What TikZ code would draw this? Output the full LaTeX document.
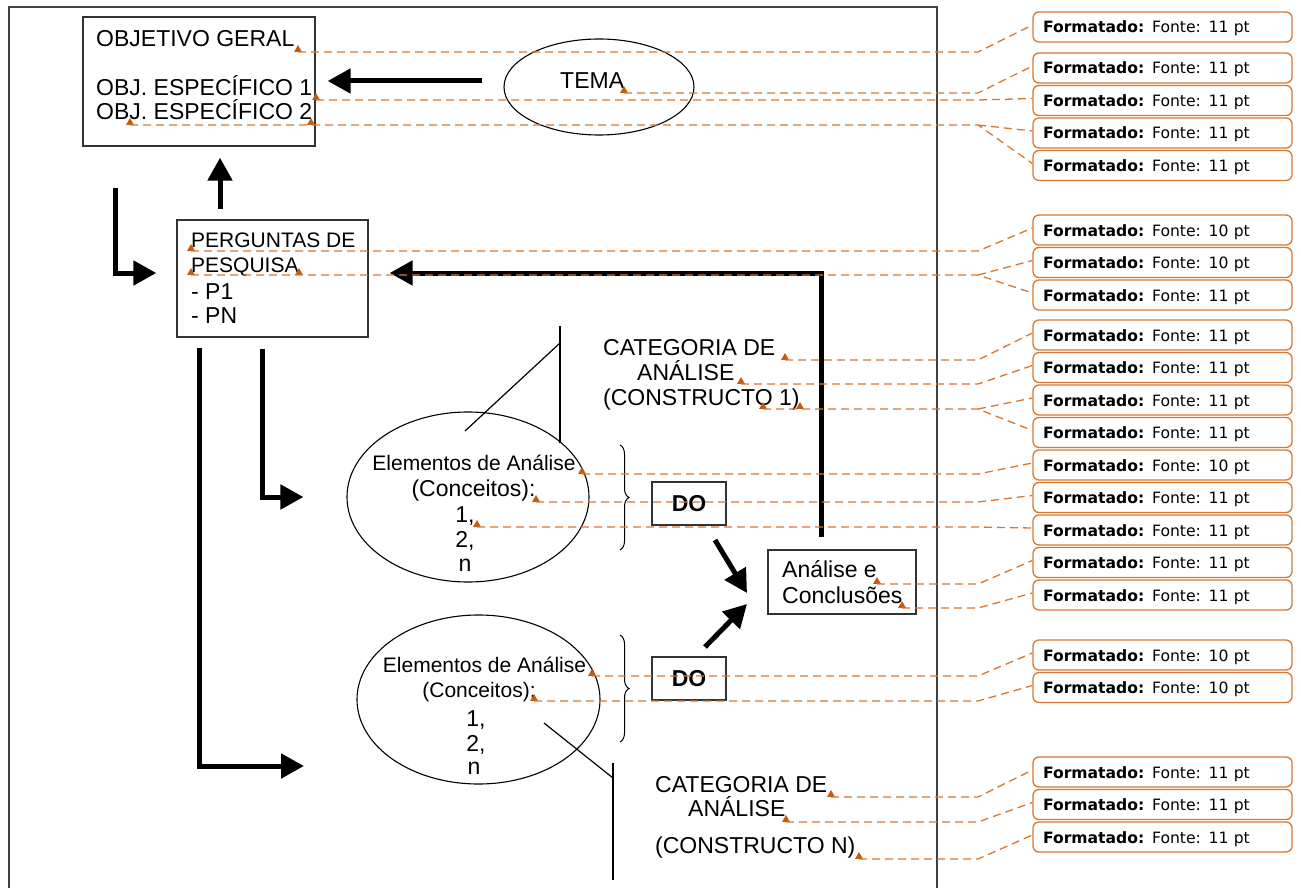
\documentclass[tikz,border=0pt]{standalone}
\usepackage{fontspec}
\setmainfont{Liberation Sans}
\newfontfamily\notefont{DejaVu Sans}
\usetikzlibrary{shapes,arrows.meta,calc,decorations.pathreplacing}
\definecolor{notecol}{RGB}{215,120,50}
\definecolor{tickcol}{RGB}{197,90,17}
\tikzstyle{pageframe}=[draw=black!75,line width=1.3pt]
\tikzstyle{box}=[draw=black!80,line width=1.3pt,inner sep=0pt]
\tikzstyle{oval}=[ellipse,draw=black,line width=1.1pt,inner sep=0pt]
\tikzstyle{txtL}=[inner sep=0pt,anchor=base west,font=\fontsize{23}{26}\selectfont]
\tikzstyle{txtS}=[inner sep=0pt,anchor=base west,font=\fontsize{21}{24}\selectfont]
\tikzstyle{flow}=[line width=5pt,-{Triangle[length=23pt,width=24pt]}]
\tikzstyle{guide}=[line width=1.2pt]
\tikzstyle{brc}=[line width=1pt,decorate,decoration={brace,amplitude=9pt}]
\tikzstyle{anchormark}=[regular polygon,regular polygon sides=3,fill=tickcol,
                        inner sep=0pt,minimum size=9pt,anchor=south]
\tikzstyle{leader}=[draw=notecol,line width=1.3pt,dash pattern=on 8pt off 5pt]
\tikzstyle{note}=[draw=notecol,line width=1.3pt,rounded corners=6pt,
                  minimum width=259pt,minimum height=30pt,
                  text width=239pt,inner xsep=10pt,inner ysep=0pt,
                  text height=12pt,text depth=0pt,align=left,
                  font=\notefont\fontsize{15.6}{18}\selectfont]

\begin{document}
\begin{tikzpicture}[x=1pt,y=-1pt,node distance=32.5pt]
    \useasboundingbox (0,0) rectangle (1301,888);
    % page frame, open at the bottom
    \draw[pageframe] (9,888) -- (9,7) -- (937,7) -- (937,888);

    % objectives
    \node[box,minimum width=232pt,minimum height=129pt] (obj) at (199,81.5) {};
    \node[txtL] (og) at (96,47) {OBJETIVO GERAL};
    \node[txtL] (oe1) at (96,96) {OBJ. ESPECÍFICO 1};
    \node[txtL] (oe2) at (96,120) {OBJ. ESPECÍFICO 2};

    % theme
    \node[oval,minimum width=190pt,minimum height=96pt] (tema) at (599,87) {};
    \node[txtL] (tematxt) at (560,89) {TEMA};

    % research questions
    \node[box,minimum width=191pt,minimum height=117pt] (perg) at (272.5,278.5) {};
    \node[txtS] (pq1) at (191,247) {PERGUNTAS DE};
    \node[txtS] (pq2) at (191,272) {PESQUISA};
    \node[txtL] (p1) at (191,299) {- P1};
    \node[txtL] (pn) at (191,323) {- PN};

    % elements of analysis
    \node[oval,minimum width=242pt,minimum height=170pt] (el1) at (468,497) {};
    \node[txtS,anchor=base] (el1a) at (474,470) {Elementos de Análise};
    \node[txtL,anchor=base] (el1b) at (473.5,496) {(Conceitos):};
    \node[txtL,anchor=base] (el1c) at (465,522) {1,};
    \node[txtL,anchor=base] (el1d) at (465,547) {2,};
    \node[txtL,anchor=base] (el1e) at (465,571) {n};

    \node[oval,minimum width=243pt,minimum height=169pt] (el2) at (478.5,699.5) {};
    \node[txtS,anchor=base] (el2a) at (484.5,672) {Elementos de Análise};
    \node[txtS,anchor=base] (el2b) at (479,697) {(Conceitos):};
    \node[txtL,anchor=base] (el2c) at (476,726) {1,};
    \node[txtL,anchor=base] (el2d) at (476,751) {2,};
    \node[txtL,anchor=base] (el2e) at (474,774) {n};

    % categories
    \node[txtL] (cat1a) at (603,355) {CATEGORIA DE};
    \node[txtL] (cat1b) at (637,380) {ANÁLISE};
    \node[txtL] (cat1c) at (603,405) {(CONSTRUCTO 1)};
    \node[txtL] (catNa) at (655,792) {CATEGORIA DE};
    \node[txtL] (catNb) at (688,816) {ANÁLISE};
    \node[txtL] (catNc) at (655,853) {(CONSTRUCTO N)};

    \coordinate (g1a) at (465,431);
    \coordinate (g1b) at (560,343);
    \coordinate (g1c) at (560,326);
    \coordinate (g1d) at (560,443);
    \draw[guide] (g1a) -- (g1b);
    \draw[guide] (g1c) -- (g1d);
    \coordinate (g2a) at (544,723);
    \coordinate (g2b) at (613,778);
    \coordinate (g2c) at (613,763);
    \coordinate (g2d) at (613,880);
    \draw[guide] (g2a) -- (g2b);
    \draw[guide] (g2c) -- (g2d);

    % braces, DO boxes, conclusions
    \coordinate (br1t) at (620,445);
    \coordinate (br1b) at (620,550);
    \coordinate (br2t) at (620,635);
    \coordinate (br2b) at (620,742);
    \draw[brc] (br1t) -- (br1b);
    \draw[brc] (br2t) -- (br2b);

    \node[box,minimum width=74pt,minimum height=43pt,font=\fontsize{23}{26}\selectfont\bfseries] (do1) at (689,503.5) {DO};
    \node[box,minimum width=74pt,minimum height=43pt,font=\fontsize{23}{26}\selectfont\bfseries] (do2) at (689,678.5) {DO};
    \node[box,minimum width=148pt,minimum height=64pt] (concl) at (842,582) {};
    \node[txtL] (an1) at (782,577) {Análise e};
    \node[txtL] (an2) at (782,603) {Conclusões};

    % thick arrows
    \coordinate (up) at (220,0);
    \coordinate (th) at (0,81);
    \coordinate (q) at (0,273);
    \coordinate (fb) at (821,273);
    \coordinate (e1) at (115,188);
    \coordinate (e2) at (262,0);
    \coordinate (e3s) at (199,348);
    \coordinate (e3t) at (304,766);
    \coordinate (d1s) at (715,540);
    \coordinate (d1t) at (747,593);
    \coordinate (d2s) at (705,647);
    \coordinate (d2t) at (747,604);
    \draw[flow,shorten <=10pt,shorten >=11pt] (perg.north -| up) -- (obj.south -| up);
    \draw[flow,shorten <=21pt,shorten >=12pt] (tema.west |- th) -- (obj.east |- th);
    \draw[flow,shorten >=20pt] (e1) |- (perg.west |- q);
    \draw[flow,shorten <=12pt,shorten >=21pt] (concl.north -| fb) |- (perg.east |- fb);
    \draw[flow,shorten <=11pt,shorten >=43pt] (perg.south -| e2) |- (el1.west);
    \draw[flow] (e3s) |- (e3t);
    \draw[flow] (d1s) -- (d1t);
    \draw[flow] (d2s) -- (d2t);

    % comment balloons
    \node[note] (c1) at (1162.5,27) {\textbf{Formatado:} Fonte: 11 pt};
    \node[note] (c2) at (1162.5,68) {\textbf{Formatado:} Fonte: 11 pt};
    \node[note,below of=c2] (c3) {\textbf{Formatado:} Fonte: 11 pt};
    \node[note,below of=c3] (c4) {\textbf{Formatado:} Fonte: 11 pt};
    \node[note,below of=c4] (c5) {\textbf{Formatado:} Fonte: 11 pt};
    \node[note] (c6) at (1162.5,230) {\textbf{Formatado:} Fonte: 10 pt};
    \node[note,below of=c6] (c7) {\textbf{Formatado:} Fonte: 10 pt};
    \node[note,below of=c7] (c8) {\textbf{Formatado:} Fonte: 11 pt};
    \node[note] (c9) at (1162.5,335) {\textbf{Formatado:} Fonte: 11 pt};
    \node[note,below of=c9] (c10) {\textbf{Formatado:} Fonte: 11 pt};
    \node[note,below of=c10] (c11) {\textbf{Formatado:} Fonte: 11 pt};
    \node[note,below of=c11] (c12) {\textbf{Formatado:} Fonte: 11 pt};
    \node[note,below of=c12] (c13) {\textbf{Formatado:} Fonte: 10 pt};
    \node[note,below of=c13] (c14) {\textbf{Formatado:} Fonte: 11 pt};
    \node[note,below of=c14] (c15) {\textbf{Formatado:} Fonte: 11 pt};
    \node[note,below of=c15] (c16) {\textbf{Formatado:} Fonte: 11 pt};
    \node[note,below of=c16] (c17) {\textbf{Formatado:} Fonte: 11 pt};
    \node[note] (c18) at (1162.5,655) {\textbf{Formatado:} Fonte: 10 pt};
    \node[note,below of=c18] (c19) {\textbf{Formatado:} Fonte: 10 pt};
    \node[note] (c20) at (1162.5,772) {\textbf{Formatado:} Fonte: 11 pt};
    \node[note,below of=c20] (c21) {\textbf{Formatado:} Fonte: 11 pt};
    \node[note,below of=c21] (c22) {\textbf{Formatado:} Fonte: 11 pt};

    % anchor marks
    \node[anchormark] (t1) at (298,52) {};
    \node[anchormark] (t2) at (624,93) {};
    \node[anchormark] (t3) at (316,100) {};
    \node[anchormark] (t4) at (311,125) {};
    \node[anchormark] (t5) at (130,125) {};
    \node[anchormark] (t6) at (191,251) {};
    \node[anchormark] (t7) at (299,275) {};
    \node[anchormark] (t8) at (191,275) {};
    \node[anchormark] (t9) at (785,360) {};
    \node[anchormark] (t10) at (741,384) {};
    \node[anchormark] (t11) at (800,409) {};
    \node[anchormark] (t12) at (763,409) {};
    \node[anchormark] (t13) at (582,474) {};
    \node[anchormark] (t14) at (536,502) {};
    \node[anchormark] (t15) at (477,527) {};
    \node[anchormark] (t16) at (877,584) {};
    \node[anchormark] (t17) at (902,608) {};
    \node[anchormark] (t18) at (592,676) {};
    \node[anchormark] (t19) at (534,701) {};
    \node[anchormark] (t20) at (831,797) {};
    \node[anchormark] (t21) at (786,822) {};
    \node[anchormark] (t22) at (859,859) {};

    % leaders
    \coordinate (k) at (978,0);
    \draw[leader] (t1.south) -- (t1.south -| k) -- ([yshift=2pt]c1.west);
    \draw[leader] (t2.south) -- (t2.south -| k) -- ([yshift=2pt]c2.west);
    \draw[leader] (t3.south) -- (t3.south -| k) -- ([yshift=2pt]c3.west);
    \draw[leader] (t5.south) -- (t5.south -| k) -- ([yshift=2pt]c5.west)
                  (t5.south -| k) -- ([yshift=2pt]c4.west);
    \draw[leader] (t6.south) -- (t6.south -| k) -- ([yshift=2pt]c6.west);
    \draw[leader] (t8.south) -- (t8.south -| k) -- ([yshift=2pt]c8.west)
                  (t8.south -| k) -- ([yshift=2pt]c7.west);
    \draw[leader] (t9.south) -- (t9.south -| k) -- ([yshift=2pt]c9.west);
    \draw[leader] (t10.south) -- (t10.south -| k) -- ([yshift=2pt]c10.west);
    \draw[leader] (t12.south) -- (t12.south -| k) -- ([yshift=2pt]c12.west)
                  (t12.south -| k) -- ([yshift=2pt]c11.west);
    \draw[leader] (t13.south) -- (t13.south -| k) -- ([yshift=2pt]c13.west);
    \draw[leader] (t14.south) -- (t14.south -| k) -- ([yshift=2pt]c14.west);
    \draw[leader] (t15.south) -- (t15.south -| k) -- ([yshift=2pt]c15.west);
    \draw[leader] (t16.south) -- (t16.south -| k) -- ([yshift=2pt]c16.west);
    \draw[leader] (t17.south) -- (t17.south -| k) -- ([yshift=2pt]c17.west);
    \draw[leader] (t18.south) -- (t18.south -| k) -- ([yshift=2pt]c18.west);
    \draw[leader] (t19.south) -- (t19.south -| k) -- ([yshift=2pt]c19.west);
    \draw[leader] (t20.south) -- (t20.south -| k) -- ([yshift=2pt]c20.west);
    \draw[leader] (t21.south) -- (t21.south -| k) -- ([yshift=2pt]c21.west);
    \draw[leader] (t22.south) -- (t22.south -| k) -- ([yshift=2pt]c22.west);
\end{tikzpicture}
\end{document}
